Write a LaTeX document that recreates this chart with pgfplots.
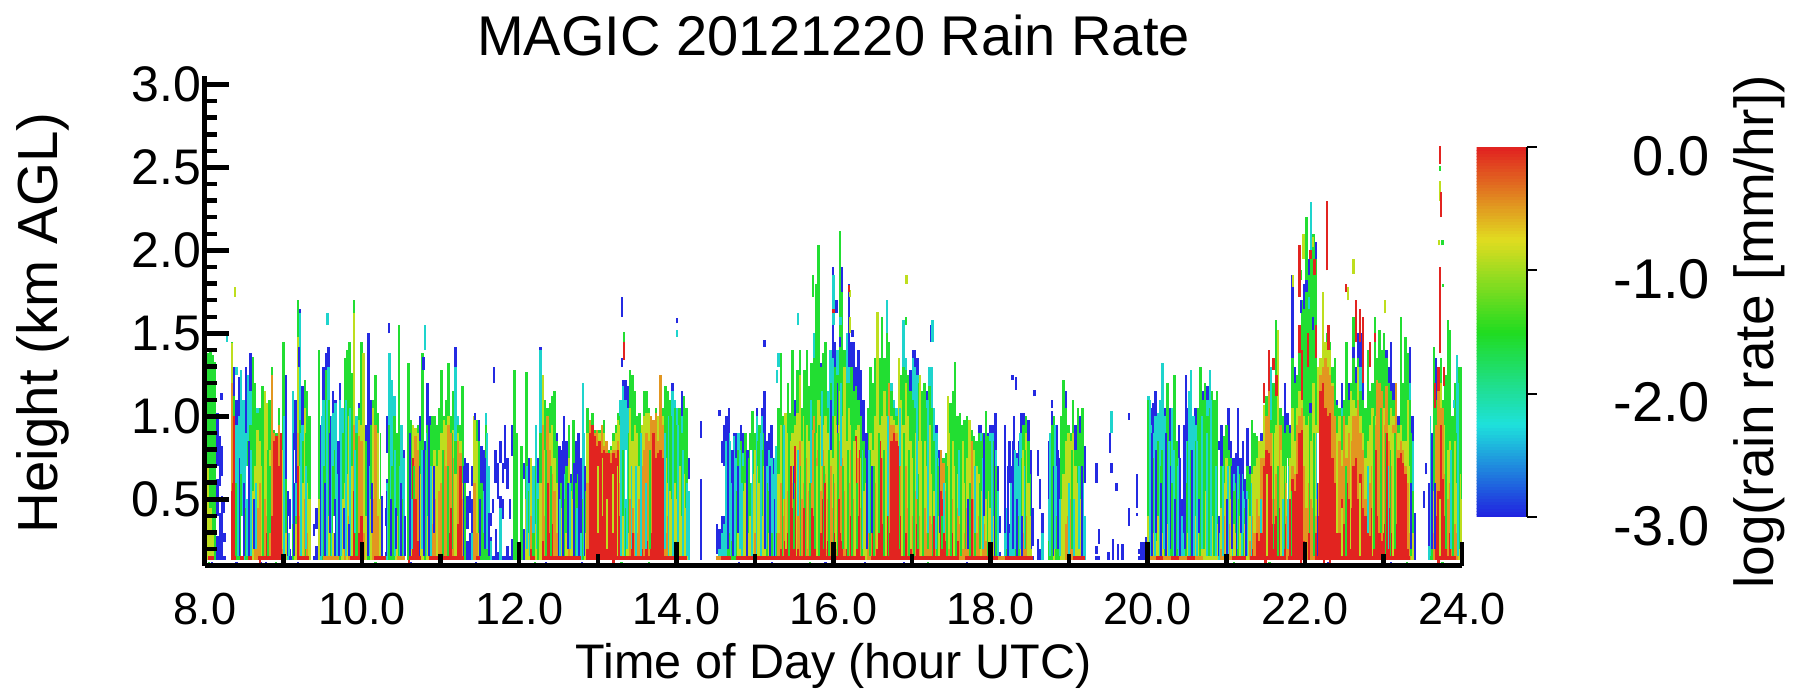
\documentclass[border=0pt]{standalone}
\usepackage{pgfplots}
\usepackage{pgfplotstable}
\usepackage{fontspec}
\setmainfont{Liberation Sans}
\pgfplotsset{compat=1.18}
% columns: time, top of blue, cyan, green, yellow, orange and red streaks (km); 0 = none
\pgfplotstableread{
x B C G Y O R
8.04 0 0 1.38 0.70 0 0
8.07 0 0 1.40 0.45 0 0
8.10 0 0 1.37 0.30 0 0
8.13 0 0 1.33 0 0 0
8.16 1.02 0 0 0 0 0
8.19 0.88 0 0 0 0 0
8.22 0.82 0 0 0 0 0
8.25 0.30 0 0 0 0 0
8.34 1.42 0 1.45 1.44 1.20 0.55
8.37 1.30 0 1.12 0.85 0.40 1.00
8.40 1.10 0.95 0.60 0 0 0
8.43 1.24 1.00 0.70 0 0 0
8.46 1.22 1.28 0.65 0 0 0
8.49 0.95 1.10 0 0 0 0
8.52 1.30 0.90 0.45 0 0 0
8.55 1.22 1.25 0.85 0 0 0
8.58 1.38 1.15 0.95 0.50 0 0
8.61 1.30 1.05 1.36 0.55 0 0
8.64 0.95 1.10 1.20 0.70 0.30 0
8.67 0 1.05 1.02 0.92 0.45 0
8.70 0 1.00 1.05 0.85 0.60 0
8.73 1.00 1.02 1.18 0.70 0 0
8.76 0 0.80 1.02 1.15 0.50 0
8.79 0 0.95 1.00 1.08 0.40 0.30
8.82 0 0.90 1.10 0.80 0.60 0
8.85 0 1.00 1.30 0.95 1.25 0.40
8.88 0 0 0.92 0.88 0.90 0.85
8.91 0 0 0.90 0.86 0.82 0.88
8.94 0 0 1.05 0.85 0.95 0.70
8.97 0 0 0.90 0.88 0.88 0.90
9.00 0.75 1.20 1.45 0.80 0.20 0
9.03 1.25 0.40 0.62 0.30 0 0
9.06 0.55 0.30 0 0 0 0
9.09 0.50 0 0 0 0 0
9.12 0.95 1.15 0.35 0 0 0
9.15 1.10 0.60 0.40 0.35 0 0
9.18 1.35 1.30 1.70 1.48 0.90 0.70
9.21 1.65 1.62 0.98 0.70 0.40 0
9.24 1.18 0.95 0.85 0.60 0 0
9.27 1.10 1.00 1.22 1.05 0.50 0
9.30 0.80 0.90 1.15 0.60 0.30 0
9.33 0.45 0.80 1.00 0.50 0 0
9.39 0.35 0 0 0 0 0
9.42 0.45 0 0 0 0 0
9.45 1.10 0.80 1.40 0.50 0 0
9.48 0.95 0.60 0 0 0 0
9.51 1.30 1.10 0.70 0 0 0
9.54 1.38 1.28 1.28 0 0 0
9.57 1.42 1.30 1.10 0.40 0 0
9.60 1.00 0.90 0.60 0 0 0
9.63 1.15 1.02 0.70 0.30 0 0
9.66 1.10 1.08 0.80 0 0 0
9.69 0.85 0.65 0 0 0 0
9.72 1.20 1.10 0.50 0 0 0
9.75 1.05 1.05 0.90 0.50 0 0
9.78 1.18 1.22 1.35 0.60 0.45 0
9.81 1.25 1.30 1.40 0.65 0 0
9.84 1.20 1.28 1.45 1.00 0.40 0
9.87 1.10 1.15 1.26 0.70 0 0
9.90 1.05 1.05 1.70 1.62 0.95 0.55
9.93 0.95 1.00 0.90 0 0 0
9.96 1.08 0.85 1.05 0.98 0.88 0.30
9.99 1.10 1.00 1.45 0.95 0.85 0.40
10.02 1.28 0.70 1.10 1.38 0.30 0
10.05 0.95 0.75 0.85 0.40 0 0
10.08 1.50 0.60 0.40 0 0 0
10.11 1.10 0.65 0.95 0.50 0 0
10.14 0.75 0.85 1.10 1.05 0.50 0
10.17 0 0.70 1.25 0.80 0.95 0
10.20 0 0.80 1.02 0.90 0.40 0
10.23 0.70 0 0.90 0.50 0 0
10.26 0.52 0 0 0 0 0
10.29 0.45 0 0 0 0 0
10.32 1.00 0.60 0 0 0 0
10.35 0.60 1.38 0.95 0 0 0
10.38 0.90 1.22 0.70 0 0 0
10.41 0.95 1.12 1.00 0 0 0
10.44 0.85 0.85 0.90 0.40 0 0
10.47 0.80 0.70 1.55 0 0 0
10.50 0.95 0.95 0.50 0 0 0
10.53 0.80 0.75 0 0 0 0
10.59 1.00 0.70 1.32 0 0 0
10.62 0.95 0.50 0.98 0.30 0 0
10.65 0.80 0.95 0.95 0.95 0.60 0.75
10.68 0 0.80 0.90 0.93 0.88 0.50
10.71 0.85 0.70 0.95 0.90 0.80 0.25
10.74 1.00 0.75 0.85 0.65 0 0
10.77 0.80 0.60 1.38 0.50 0 0
10.80 0.85 0.50 0.80 0 0 0
10.83 1.20 0.70 0.95 0.40 0 0
10.86 1.00 0.85 0.95 0.50 0 0
10.89 0.75 0.95 1.00 0.70 0.35 0
10.92 1.00 0.82 1.00 0.80 0.50 0
10.95 0.70 0.75 0.95 0.70 0 0
10.98 0.60 0.60 1.05 0.80 0.55 0
11.01 0 0.70 1.28 0.90 0.60 0
11.04 0 0.85 1.00 0.98 0.80 0
11.07 0 0.90 1.10 0.95 0.70 0
11.10 0 0.75 1.32 1.00 0.95 0.30
11.13 0 0.70 1.00 0.85 0.90 0.45
11.16 0 0.90 1.15 0.92 0.75 0
11.19 1.42 1.30 0.85 0.65 0 0
11.22 0 1.00 0.95 0.90 0.85 0.35
11.25 0 0.80 0.95 0.85 0.78 0.70
11.28 0.70 0.80 1.18 0.60 0.50 0
11.31 0.75 0.60 0.60 0 0 0
11.34 0.72 0 0 0 0 0
11.37 0.55 0 0 0 0 0
11.40 0.70 0.30 0 0 0 0
11.43 0.75 0.55 0.95 1.00 0.60 0
11.46 0 0.40 0.98 0.85 0.30 0
11.49 0.98 0.80 0.85 0.30 0 0
11.52 0.82 0.50 0.60 0 0 0
11.55 0.80 0.55 0.30 0 0 0
11.58 0.60 1.02 0.95 0 0 0
11.61 0.55 0.70 0.40 0 0 0
11.64 0.42 0.25 0 0 0 0
11.67 0.50 0 0 0 0 0
11.70 0.80 0 0 0 0 0
11.73 0.72 0 0 0 0 0
11.76 0.85 0.45 0 0 0 0
11.79 0.72 0 0 0 0 0
11.82 0.95 0 0 0 0 0
11.85 0.75 0 0 0 0 0
11.88 0.50 0 0 0 0 0
11.91 0.95 0 0 0 0 0
11.94 0.85 1.10 1.28 0 0 0
11.97 0.62 0 0.90 0 0 0
12.03 0 0 0.82 0 0 0
12.06 0.72 0 0 0 0 0
12.09 1.27 0.90 1.27 0.50 0 0
12.12 0.75 0.60 0.55 0.30 0 0
12.15 0.70 0.55 0 0.75 0.40 0.20
12.18 0.65 0.70 0.30 0 0 0
12.21 0.85 0.95 0.70 0.35 0 0
12.24 0.75 0.60 0.50 0 0 0
12.27 1.42 1.40 0.90 0.60 0 0
12.30 0.80 0.60 1.00 1.25 0.95 0.25
12.33 0 0.85 1.10 0.80 0.40 0
12.36 0 0.90 1.05 0.95 1.00 0.60
12.39 0 0.70 1.08 0.90 0.80 0.30
12.42 0 0.60 1.12 0.95 0.65 0.35
12.45 0 0.80 1.15 0.75 0.55 0
12.48 0.90 0.70 0.85 0.60 0.30 0
12.51 0.82 0.50 0.40 0 0 0
12.54 0.80 0.55 0.60 0.45 0 0
12.57 1.00 0.65 0.50 0 0 0
12.60 0.85 0.45 0.70 0.30 0 0
12.63 0.80 0.50 0.95 0.75 0.40 0
12.66 0.65 0.40 0.60 0.55 0 0
12.69 0.78 0.60 0.98 0.50 0 0
12.72 0.85 0.45 0.60 0 0 0
12.75 0.90 0.55 0.65 0.40 0 0
12.78 0.75 0.30 0 0 0 0
12.81 0.80 1.20 0.50 0 0 0
12.84 0.70 0.45 0.55 0.30 0 0
12.87 0.55 0.70 1.05 0.90 0.60 0.20
12.90 0 0.60 0.95 0.90 0.98 0.90
12.93 0 0 1.02 0.95 0.90 0.95
12.96 0 0 0.92 0.85 0.90 0.88
12.99 0 0 0.90 0.88 0.92 0.82
13.02 0 0 0.92 0.90 0.85 0.85
13.05 0 0 0.92 0.85 0.95 0.78
13.08 0 0 0.98 0.90 0.82 0.80
13.11 0 0 0.85 0.80 0.85 0.78
13.14 0 0 0.80 0.60 0.75 0.78
13.17 0 0 0.82 0.80 0.78 0.72
13.20 0 0 0.90 0.85 0.80 0.78
13.23 0 0 0.95 0.90 0.80 0.75
13.26 0 0 1.02 0.98 0.85 0.80
13.29 0.90 1.10 1.00 0.95 0.60 0.40
13.32 1.22 1.18 0.80 0.40 0 0
13.35 1.22 1.10 0.45 0 0 0
13.38 1.18 1.05 0.90 0.30 0 0
13.41 1.00 0.90 1.28 1.05 0.50 0
13.44 0.85 0.85 1.25 0.85 0.45 0.30
13.47 0.75 0.80 1.15 0.95 0.30 0
13.50 0.70 0.75 1.00 0.90 0.30 0
13.53 0.60 0.85 1.02 0.70 0.50 0
13.56 0 0.95 0.90 0.95 0.70 0.20
13.59 0 0.85 1.15 1.00 0.80 0
13.62 0 0.80 1.15 1.02 0.90 0.25
13.65 0 0.90 1.05 1.02 0.85 0
13.68 0 0.75 0.95 0.90 1.00 0.30
13.71 0 0.70 0.90 0.95 0.98 0.90
13.74 0 0.85 1.05 0.95 1.02 0.75
13.77 0 0.70 0.90 1.00 0.85 0.78
13.80 0 0.50 1.00 1.25 1.25 0.80
13.83 0 0.70 1.05 1.00 0.95 0.75
13.86 0 0.95 1.18 0.75 0.30 0
13.89 0.90 1.00 1.15 0.60 0.40 0
13.92 1.00 1.05 1.10 0.55 0 0
13.95 1.20 1.15 1.00 0.50 0 0
13.98 1.05 1.10 1.05 0.60 0 0
14.01 0.85 1.05 0.95 0.50 0 0
14.04 0.80 0.95 1.05 0.70 0 0
14.07 1.15 1.00 0.90 0.40 0 0
14.10 0.90 0.80 1.12 0.65 0 0
14.13 0.85 0.70 1.05 0.45 0 0
14.16 0.75 0.55 0 0 0 0
14.31 0.65 0 0 0 0 0
14.52 0.35 0 0 0 0 0
14.55 0.32 0.20 0 0 0 0
14.58 0.85 0.30 0 0 0 0
14.61 0.95 0.35 0 0 0 0
14.64 1.00 0.60 0.25 0 0 0
14.67 1.05 0.90 0.30 0 0 0
14.70 0.80 0.60 0.25 0 0 0
14.73 0.90 0.88 0.40 0 0 0
14.76 0.90 0.75 0.55 0 0 0
14.79 0.70 0.90 0.80 0.40 0 0
14.82 0.95 0.85 0.85 0.60 0 0
14.85 0.90 0.78 0.70 0.55 0 0
14.88 0.50 0.60 0.90 0.60 0 0
14.91 0.80 0.40 0.75 0.30 0 0
14.94 0.72 0.60 0.90 0.40 0 0
14.97 1.00 0.95 1.03 0.65 0 0
15.00 0.90 0.85 0.90 0.80 0.30 0
15.03 1.05 1.00 0.85 0.70 0 0
15.06 0.95 0.90 0.95 0.60 0 0
15.09 1.05 1.00 0.80 0.40 0 0
15.12 1.15 0.50 0.90 0.70 0 0
15.15 0.85 0.70 0.60 0 0 0
15.18 0.90 0.80 0.55 0.30 0 0
15.21 0.95 0.75 0.30 0 0 0
15.24 0.75 0.65 0 0 0 0
15.27 0.55 0.82 0.30 0 0 0
15.30 0.60 0.40 1.05 0.65 0.30 0
15.33 0 0.80 1.38 0.95 0.60 0.20
15.36 1.00 0.70 1.00 0.80 0.40 0
15.39 0 0.90 0.85 1.02 0.70 0.25
15.42 0 1.00 1.20 0.90 0.55 0.30
15.45 1.00 0.90 1.02 0.85 0.65 0
15.48 0 0.85 1.40 0.90 0.60 0.45
15.51 1.10 0.95 1.00 0.95 0.40 0.82
15.54 0 1.02 1.28 1.02 0.70 0.20
15.57 0 0.95 1.40 1.25 0.85 0
15.60 1.00 1.05 1.05 0.85 0.50 0
15.63 0 1.00 1.28 1.00 0.60 0.30
15.66 1.05 1.15 1.40 0.95 0.75 0
15.69 0 1.15 1.18 0.85 0.55 0
15.72 0 1.25 1.32 0.75 0.92 0.45
15.75 1.30 1.50 1.35 1.00 1.00 0.40
15.78 0 1.30 1.80 0.90 0.75 0.30
15.81 0 1.50 2.03 1.10 0.80 0.35
15.84 1.32 1.25 1.30 1.00 0.55 0.30
15.87 0 1.30 1.38 0.95 0.80 0.50
15.90 1.40 1.20 1.45 1.00 0.65 0
15.93 1.00 1.15 1.05 0.90 0.50 0.25
15.96 1.10 1.40 1.20 0.85 0.70 0
15.99 1.90 1.35 1.00 0.75 0.45 0
16.02 1.45 1.10 1.30 1.00 0.60 0.30
16.05 1.20 1.40 1.25 0.95 0.65 0
16.08 1.20 1.40 2.12 1.15 0.85 0.30
16.11 1.90 1.70 1.75 1.00 0.75 0.25
16.14 1.30 1.30 1.40 1.30 0.55 0
16.17 1.25 1.50 1.20 0.85 0.70 0.35
16.20 1.80 1.30 1.20 1.05 0.60 0
16.23 1.45 1.25 1.30 0.95 0.80 0.40
16.26 1.45 1.10 1.15 0.85 0.50 0
16.29 1.30 1.00 1.18 0.92 0.55 0.88
16.32 1.40 1.05 1.10 0.95 0.75 0.40
16.35 1.28 0.90 1.00 0.75 0.45 0
16.38 1.10 0.60 0.85 0.55 0.30 0
16.41 0.90 0.65 0.75 0.60 0 0
16.44 0.95 0.85 1.05 0.75 0.40 0
16.47 1.00 0.85 1.30 0.90 0.50 0
16.50 1.05 1.00 1.20 0.80 0.70 0.30
16.53 1.10 1.00 1.35 1.00 0.60 0
16.56 1.15 1.10 1.20 1.63 0.85 0.50
16.59 1.05 1.15 1.35 0.95 0.72 0.85
16.62 0.95 1.25 1.60 1.00 0.75 0.35
16.65 1.00 1.35 1.35 1.15 0.80 0.30
16.68 1.20 1.70 1.50 1.00 0.90 0.45
16.71 1.10 1.30 1.45 1.20 1.20 0.30
16.74 1.00 1.20 1.15 1.00 0.95 0.85
16.77 0.90 1.10 1.05 0.98 0.95 0.90
16.80 0.85 1.05 1.00 0.95 0.90 0.85
16.83 0.95 0.90 1.10 1.35 0.80 0.82
16.86 1.00 1.10 1.25 1.10 0.85 0.40
16.89 1.05 1.58 1.30 0.95 0.55 0
16.92 1.15 1.35 1.28 1.20 0.70 0.30
16.95 1.05 1.05 1.25 1.00 0.45 0
16.98 1.28 1.10 1.15 0.85 0.70 0.25
17.01 1.40 1.35 1.10 0.75 0.40 0
17.04 1.40 1.30 1.05 0.90 0.55 0
17.07 1.35 1.25 1.20 0.85 0.65 0.35
17.10 1.25 1.10 1.10 1.25 0.40 0
17.13 1.10 1.05 1.15 0.80 0.55 0
17.16 1.00 1.00 1.20 0.85 0.45 0
17.19 1.15 1.10 1.05 0.70 0.30 0
17.22 0.90 1.30 1.18 0.95 0.40 0
17.25 1.05 1.30 1.05 0.65 0.35 0
17.28 1.05 1.05 0.85 0.55 0 0
17.31 0.95 0.90 0.75 0.50 0.30 0
17.34 0.80 0.75 0.70 0.40 0 0
17.37 0 0.65 0.78 0.60 0.80 0.55
17.40 0 0.60 0.75 0.70 0.72 0.50
17.43 0 0.70 0.78 0.60 0.55 0.25
17.46 0 0.85 1.00 1.12 0.60 0
17.49 0 0.90 1.08 0.75 0.45 0
17.52 0 1.00 1.15 0.85 0.50 0.30
17.55 1.00 1.10 1.33 0.70 0.40 0
17.58 0 0.95 1.00 0.65 0.45 0.25
17.61 0 0.85 1.02 0.60 0.35 0
17.64 0 0.80 0.95 0.55 0.40 0
17.67 0 0.85 0.98 0.60 0.30 0
17.70 0.90 0.95 1.00 0.75 0.45 0
17.73 0.85 0.75 0.90 0.98 0.35 0
17.76 0.80 0.70 0.92 0.85 0.85 0.25
17.79 0 0.70 0.88 0.80 0.50 0
17.82 0 0.75 0.85 0.70 0.30 0
17.85 0.95 0.80 0.90 0.65 0.40 0
17.88 0.95 0.90 0.85 0.55 0 0
17.91 0.85 0.80 0.90 0.60 0.35 0
17.94 1.02 0.95 1.03 0.50 0.25 0
17.97 0.90 0.85 0.88 0.55 0 0
18.00 0.95 0.90 0.85 0.45 0 0
18.03 0.95 0.90 0.85 0.40 0 0
18.06 1.02 0.80 0.70 0 0 0
18.09 0.70 0.55 0 0 0 0
18.12 0.40 0 0 0 0 0
18.18 0.95 0.30 0 0 0 0
18.21 0.35 0.45 0.20 0 0 0
18.24 0.85 0.30 0 0 0 0
18.27 0.70 0.40 0 0 0 0
18.30 1.00 0.35 0 0 0 0
18.33 0.78 0.75 0.30 0 0 0
18.36 0.85 0.70 0.40 0 0 0
18.39 1.02 0.90 0.75 0.40 0 0
18.42 1.02 0.85 0.95 0.80 0.30 0
18.45 0.75 0.60 1.00 0.90 0.40 0
18.48 0.98 0.55 0.85 0.60 0 0
18.51 0.80 0.40 0.65 0.40 0 0
18.54 0.45 0 0 0 0 0
18.60 0.80 0 0 0 0 0
18.63 0.62 0 0 0 0 0
18.66 0.42 0.30 0 0 0 0
18.75 0.85 0.50 0.25 0 0 0
18.78 1.03 0.80 0.95 0 0 0
18.81 0.90 0.85 1.00 0.30 0 0
18.84 0.95 0.70 0.40 0 0 0
18.87 0.75 0.45 0.30 0 0 0
18.90 0.95 0.60 1.00 0.50 0 0
18.93 1.20 0.95 1.22 0.65 0 0
18.96 1.15 0.90 1.05 0.85 0.35 0
18.99 0.85 0.80 0.95 0.90 0.40 0
19.02 0.85 0.70 0.90 0.85 0.50 0
19.05 0.90 0.75 1.10 0.90 0.35 0
19.08 0.95 0.65 0.80 0.70 0 0
19.11 0.95 0.70 1.05 0.60 0 0
19.14 1.00 0.80 0.90 0.50 0 0
19.17 0.85 0.75 1.05 0.40 0 0
19.20 0.82 0.40 0 0 0 0
19.35 0.22 0 0 0 0 0
19.38 0.32 0 0 0 0 0
19.50 0.18 0 0 0 0 0
19.56 0.26 0 0 0 0 0
19.62 0.23 0 0 0 0 0
19.68 0.23 0 0 0 0 0
19.89 0.20 0 0 0 0 0
19.92 0.24 0 0 0 0 0
19.95 0.24 0 0 0 0 0
19.98 0.27 0 0 0 0 0
20.01 0.85 1.12 1.10 0.40 0 0
20.04 1.05 0.95 0.80 0.50 0 0
20.07 1.08 0.90 0.75 0.30 0 0
20.10 1.15 1.00 0.60 0.25 0 0
20.13 0.80 1.02 0.85 0.40 0 0
20.16 0.95 1.10 0.70 0 0 0
20.19 1.05 1.32 0.80 0.30 0 0
20.22 1.05 1.00 0.70 0 0 0
20.25 1.15 0.95 1.20 0.35 0 0
20.28 1.05 0.85 0.85 0 0 0
20.31 0.90 1.05 0.60 0 0 0
20.34 1.22 0.80 1.25 0.50 0 0
20.37 0.80 0.75 0.85 0 0 0
20.40 0.95 0.75 0 0 0 0
20.43 0.50 0.40 0 0 0 0
20.46 0.95 0.30 0 0 0 0
20.49 1.25 0.85 0.60 0 0 0
20.52 1.05 0.70 0.85 0.30 0 0
20.55 1.22 1.28 0.80 0 0 0
20.58 0.90 1.00 0.60 0 0 0
20.61 1.05 0.95 0.85 0.40 0 0
20.64 0.95 0.90 1.05 0.50 0 0
20.67 0.85 1.00 1.30 0.60 0 0
20.70 1.15 1.05 1.10 0.70 0 0
20.73 1.05 1.00 1.20 0.55 0 0
20.76 1.18 1.10 1.00 0.50 0 0
20.79 0.85 1.28 1.05 0.65 0 0
20.82 1.00 0.90 1.15 0.40 0 0
20.85 0.75 0.95 1.10 0.50 0 0
20.88 0.55 0.80 1.15 0.35 0 0
20.91 0.85 0.30 0 0 0 0
20.94 0.95 0.65 0.70 0.45 0.20 0
20.97 0.85 0.80 0.88 0.60 0.40 0
21.00 0.78 0.75 0.95 0.75 0 0
21.03 1.05 0.60 0.80 0.70 0.35 0
21.06 0.85 0.70 0.75 0.50 0 0
21.09 0.75 0.65 0.55 0.35 0 0
21.12 0.78 0.55 0.60 0.30 0 0
21.15 1.05 0.70 0.50 0 0 0
21.18 0.75 0.60 0.65 0.40 0 0
21.21 0.85 0.55 0.30 0 0 0
21.24 0.62 0.50 0.45 0.35 0 0
21.27 0.93 0.60 0.70 0.50 0 0
21.30 0.70 0.55 0.65 0.40 0.25 0
21.33 0.75 0.60 0.98 0.65 0.40 0.20
21.36 0.85 0.70 0.90 0.70 0.30 0
21.39 0.85 0.80 0.88 0.75 0.50 0.30
21.42 0.85 0.65 0.80 0.85 0.40 0.25
21.45 0.90 0.55 0.60 0.85 0.75 0.30
21.48 1.05 0.85 0.90 1.07 0.75 0.70
21.51 1.10 0.80 1.12 0.95 1.00 0.80
21.54 1.25 0.90 1.15 1.00 1.35 0.78
21.57 1.28 1.30 0.98 0.85 0.90 0.70
21.60 1.05 1.00 1.20 0.90 0.50 0.35
21.63 1.30 1.10 1.58 0.95 0.65 0.40
21.66 1.00 0.90 1.00 1.52 0.70 0.30
21.69 1.05 0.80 1.05 0.85 0.95 0.45
21.72 0.95 0.85 1.00 0.70 0.40 0.25
21.75 1.20 0.85 0.90 0.70 0.60 0.35
21.78 1.02 0.80 0.95 0.60 0.40 0
21.81 0.95 0.85 0.90 0.75 0.45 0.50
21.84 1.85 1.00 1.35 1.05 0.70 0.62
21.87 1.30 1.05 1.20 0.85 0.65 0.55
21.90 1.20 1.00 1.25 1.05 0.95 0.65
21.93 1.50 1.30 1.45 1.15 1.00 0.90
21.96 1.55 1.45 1.70 1.25 1.05 0.92
21.99 1.80 1.60 1.65 1.00 0.70 0.25
22.02 1.90 1.70 2.20 0.95 0.45 0
22.05 1.95 1.75 1.85 1.00 0.60 0.30
22.08 1.55 2.29 1.95 0.85 0.50 0
22.11 1.95 1.70 2.10 1.20 0.45 0
22.14 2.05 1.50 1.95 0.95 0.40 0.30
22.17 0.90 0.60 0.80 1.30 0.75 0.40
22.20 1.00 0.95 1.30 1.35 1.25 1.15
22.23 0 0 1.55 1.75 1.30 1.20
22.26 0 0 1.45 1.45 1.35 1.05
22.29 0 1.40 1.50 1.45 1.30 1.00
22.32 0 0 1.45 1.40 1.25 1.02
22.35 0 0 1.30 1.20 1.18 0.75
22.38 0 0.95 1.35 0.95 1.00 0.60
22.41 1.10 1.00 1.07 0.90 0.70 0.45
22.44 1.05 1.05 1.05 1.00 0.85 0.30
22.47 1.20 1.05 1.00 0.80 0.70 0.50
22.50 1.00 1.00 1.10 1.00 1.00 0.35
22.53 1.40 1.10 1.45 0.95 0.75 0.60
22.56 1.20 0.95 1.10 1.00 0.90 0.50
22.59 1.05 1.00 1.20 1.15 0.85 0.45
22.62 1.55 1.45 1.60 1.10 1.00 0.70
22.65 1.30 1.00 1.20 1.05 1.00 0.75
22.68 1.50 1.05 1.35 1.30 1.10 0.50
22.71 1.50 1.30 1.15 1.00 0.90 0.65
22.74 1.40 0.95 1.10 0.90 0.80 0.45
22.77 1.00 0.90 1.05 0.75 0.50 0.40
22.80 1.20 1.05 1.40 0.85 0.55 0.30
22.83 0.95 0.85 1.15 0.95 0.60 0.28
22.86 1.00 1.00 1.20 1.05 0.70 0.45
22.89 1.25 1.10 1.60 1.00 0.95 0.30
22.92 1.20 1.15 1.35 1.15 1.22 0.40
22.95 1.25 1.10 1.52 1.18 1.20 0.30
22.98 1.35 1.30 1.40 1.10 1.15 0.25
23.01 1.45 1.40 1.50 1.05 0.95 0.35
23.04 1.40 1.25 1.35 1.00 1.18 0.30
23.07 1.30 1.20 1.20 0.95 0.85 0.45
23.10 1.45 1.15 1.15 1.05 0.70 0.30
23.13 1.20 1.00 1.10 1.00 0.95 0.35
23.16 1.05 0.90 1.02 1.10 1.20 0.35
23.19 1.00 0.85 0.95 0.90 0.80 0.75
23.22 1.15 1.05 1.60 0.95 0.85 0.78
23.25 1.05 1.10 1.20 0.85 0.80 0.72
23.28 1.10 1.00 1.48 0.85 0.70 0.65
23.31 1.15 0.95 1.38 1.10 0.60 0.20
23.34 1.42 1.20 1.10 0.70 0.30 0
23.37 1.00 0.85 0.55 0.30 0 0
23.40 0.42 0 0 0 0 0
23.58 0.60 0.22 0 0 0 0
23.61 0.50 0.28 0.20 0 0 0
23.64 1.33 0.80 1.42 0.55 0.30 0
23.67 1.35 1.10 1.10 0.85 0.95 0.40
23.70 0.85 1.00 1.20 1.05 1.20 0.55
23.73 0 0.95 1.35 1.20 1.05 0.95
23.76 0 0.90 1.10 1.05 1.05 0.62
23.79 0.90 0.80 1.25 0.95 0.65 0.40
23.82 0.95 1.00 1.58 0.80 0.50 0
23.85 0.95 0.90 1.52 0.85 0.60 0.30
23.88 0.80 0.85 1.00 0.75 0.40 0
23.91 1.10 1.05 1.20 0.85 0.35 0
23.94 1.00 1.37 0.90 0.60 0.30 0
23.97 1.05 1.00 1.30 0.65 0 0
24.00 0.90 0.75 1.30 0.50 0 0
}\columnsT
% streaks inside the columns, one table per colour: time, from, to (km)
\pgfplotstableread{
x lo hi
13.00 0.30 0.70
13.06 0.40 0.75
13.12 0.20 0.50
13.19 0.30 0.65
13.25 0.16 0.70
15.40 0.20 0.70
15.53 0.16 0.90
15.67 0.20 0.75
15.79 0.16 0.70
15.91 0.20 0.80
16.03 0.20 0.85
16.16 0.20 0.70
16.27 0.16 0.85
16.39 0.16 0.50
16.55 0.20 0.95
16.67 0.16 0.90
16.87 0.16 0.90
16.99 0.20 0.70
17.11 0.16 0.85
17.47 0.20 0.90
17.53 0.16 0.70
17.65 0.20 0.85
21.52 0.16 0.65
21.70 0.16 0.80
22.41 0.30 0.80
22.47 0.16 0.45
22.58 0.20 0.90
22.70 0.16 0.60
22.86 0.16 0.80
23.00 0.30 1.00
23.12 0.16 0.90
23.72 0.16 0.50
}\strY
\pgfplotstableread{
x lo hi
8.74 0.16 0.90
8.80 0.16 0.80
8.83 0.30 0.70
9.28 0.16 0.90
10.66 0.30 0.70
11.03 0.16 0.80
11.09 0.16 0.70
11.15 0.20 0.90
12.34 0.16 0.80
12.40 0.16 0.70
13.66 0.20 0.80
15.35 0.16 0.85
15.43 0.16 0.90
15.50 0.20 0.60
15.58 0.16 0.70
15.64 0.16 1.00
15.70 0.16 0.60
15.76 0.20 0.90
15.82 0.16 0.95
15.88 0.20 0.70
15.94 0.16 0.80
16.00 0.16 0.65
16.06 0.16 0.90
16.12 0.20 0.70
16.18 0.16 0.80
16.24 0.16 0.95
16.30 0.20 0.60
16.36 0.16 0.80
16.46 0.16 0.80
16.52 0.16 0.70
16.58 0.30 0.90
16.64 0.16 0.80
16.70 0.16 0.75
16.84 0.20 0.70
16.90 0.16 0.90
16.96 0.16 0.80
17.02 0.16 0.90
17.08 0.20 0.65
17.14 0.16 0.90
17.20 0.20 0.50
17.26 0.16 0.75
17.32 0.16 0.70
17.38 0.20 0.40
17.44 0.16 0.70
17.50 0.16 0.80
17.56 0.16 0.90
17.62 0.16 0.70
17.68 0.20 0.80
17.74 0.16 0.60
17.80 0.16 0.70
17.86 0.20 0.60
17.96 0.16 0.70
18.44 0.20 0.80
19.04 0.20 0.80
20.66 0.16 0.60
20.72 0.20 0.90
20.78 0.16 0.70
20.84 0.16 0.80
21.60 0.20 0.90
21.66 0.16 0.70
21.74 0.20 0.70
21.83 0.16 0.55
22.06 0.30 1.00
22.12 0.16 0.90
22.52 0.16 0.70
22.88 0.20 1.00
22.97 0.30 1.05
23.03 0.16 0.90
23.09 0.16 0.80
23.15 0.20 0.90
23.35 0.16 0.90
23.80 0.20 1.00
23.89 0.16 1.00
23.96 0.20 0.90
}\strG
\pgfplotstableread{
x lo hi
8.42 0.16 0.90
8.48 0.25 1.00
8.53 0.16 0.70
8.59 0.16 0.80
8.65 0.20 0.60
9.01 0.16 1.00
9.07 0.16 0.30
9.22 0.16 0.90
9.29 0.20 0.70
9.49 0.16 1.00
9.55 0.16 1.10
9.61 0.16 1.00
9.67 0.16 0.90
9.73 0.16 1.00
9.79 0.16 1.10
9.85 0.16 1.05
9.91 0.30 0.80
10.09 0.16 0.70
10.36 0.16 1.10
10.42 0.16 0.80
10.48 0.16 0.70
10.63 0.20 0.50
10.76 0.20 0.80
10.82 0.16 0.90
10.88 0.16 0.70
11.59 0.20 0.90
12.10 0.20 0.70
12.13 0.16 0.60
12.22 0.20 0.80
12.52 0.16 0.50
12.65 0.20 0.60
12.74 0.16 0.45
12.82 0.16 0.90
13.30 0.16 1.10
13.34 0.16 0.90
13.37 0.20 1.00
13.43 0.20 0.70
13.49 0.16 0.70
13.55 0.16 0.90
13.61 0.20 0.60
13.86 0.20 0.90
13.90 0.16 1.00
13.96 0.16 1.00
14.02 0.20 0.95
14.08 0.16 0.80
14.14 0.16 0.60
14.63 0.16 0.85
14.69 0.16 0.85
14.75 0.16 0.70
14.81 0.20 0.80
14.84 0.16 0.60
14.96 0.16 0.80
15.02 0.16 0.90
15.08 0.16 0.90
15.14 0.20 0.70
15.26 0.16 0.75
15.37 0.50 0.95
15.55 0.40 0.80
15.71 0.60 1.10
15.85 0.70 1.15
15.95 0.80 1.30
16.10 0.70 1.20
16.37 0.20 0.80
16.45 0.30 0.80
16.69 0.40 1.00
16.85 0.70 1.05
17.06 0.50 1.20
17.20 0.30 1.10
17.30 0.20 0.90
17.41 0.30 0.60
17.60 0.40 0.80
17.80 0.30 0.70
17.90 0.20 0.75
18.02 0.20 0.85
18.10 0.16 0.50
18.26 0.20 0.60
18.31 0.20 0.80
18.37 0.20 0.90
18.43 0.20 0.70
18.76 0.16 0.90
18.82 0.20 0.95
18.88 0.16 0.50
19.00 0.16 0.60
19.06 0.16 0.50
19.12 0.20 0.70
19.18 0.16 0.60
20.03 0.16 1.10
20.09 0.16 1.00
20.15 0.16 0.95
20.21 0.20 1.00
20.27 0.16 0.85
20.33 0.16 0.80
20.39 0.20 0.70
20.53 0.16 1.15
20.59 0.16 1.00
20.63 0.16 0.85
20.69 0.20 1.00
20.75 0.16 0.90
20.81 0.16 1.10
20.87 0.16 0.70
20.96 0.16 0.70
21.02 0.16 0.70
21.08 0.16 0.65
21.14 0.20 0.60
21.20 0.16 0.65
21.26 0.16 0.55
21.32 0.16 0.60
21.44 0.30 0.50
21.72 0.16 0.50
21.79 0.20 0.70
22.15 0.50 0.90
22.80 0.30 0.70
23.06 0.20 0.70
23.60 0.16 1.00
23.86 0.20 0.80
23.95 0.16 1.20
}\strC
\pgfplotstableread{
x lo hi
8.44 0.16 0.75
8.50 0.16 0.60
8.56 0.16 0.85
8.62 0.20 0.50
9.05 0.16 0.45
9.13 0.16 0.90
9.47 0.16 0.95
9.53 0.16 0.60
9.59 0.30 0.90
9.65 0.16 0.50
9.71 0.16 0.85
9.77 0.20 0.45
9.83 0.16 0.35
10.07 0.16 0.90
10.13 0.30 0.60
10.25 0.16 0.50
10.31 0.16 0.55
10.37 0.16 0.50
10.43 0.20 0.45
10.49 0.16 0.60
10.55 0.16 0.40
10.61 0.16 0.90
10.73 0.16 0.70
10.79 0.16 0.80
10.85 0.16 0.95
10.91 0.30 0.70
11.29 0.16 0.70
11.50 0.16 0.50
11.56 0.20 0.75
11.62 0.16 0.42
12.50 0.16 0.75
12.56 0.16 0.85
12.62 0.20 0.60
12.70 0.16 0.72
12.76 0.16 0.90
12.83 0.16 0.70
14.66 0.20 0.90
14.72 0.16 0.80
14.78 0.30 0.70
14.90 0.16 0.80
15.13 0.20 0.90
15.19 0.16 0.70
15.25 0.16 0.50
15.49 0.50 0.70
15.97 0.80 1.10
16.05 0.90 1.20
16.43 0.20 0.90
16.49 0.30 0.70
17.35 0.30 0.80
17.71 0.20 0.50
17.92 0.40 0.90
18.05 0.16 0.85
18.22 0.16 0.70
18.28 0.20 0.85
18.34 0.16 0.50
18.40 0.16 0.40
18.52 0.20 0.70
18.80 0.16 0.70
18.86 0.20 0.80
19.16 0.16 0.70
20.05 0.16 0.90
20.11 0.30 0.80
20.17 0.16 0.60
20.23 0.16 0.90
20.29 0.20 0.70
20.35 0.16 0.50
20.41 0.16 0.75
20.47 0.20 0.90
20.56 0.16 0.80
20.65 0.30 0.50
20.90 0.16 0.80
21.01 0.16 0.50
21.07 0.20 0.70
21.13 0.16 0.60
21.19 0.30 0.70
21.25 0.16 0.50
22.16 0.16 0.70
23.35 0.20 0.60
23.62 0.20 0.90
23.66 0.20 0.60
}\strB
\pgfplotstableread{
x lo hi
8.36 0.16 0.60
10.66 0.16 0.50
15.46 0.16 0.70
15.62 0.16 0.45
15.89 0.16 0.60
16.07 0.16 0.50
16.33 0.16 0.80
16.60 0.16 0.75
17.28 0.16 0.40
17.76 0.16 0.50
22.91 0.16 0.80
23.05 0.16 0.90
}\strR
\pgfplotstableread{
x lo hi
8.47 0.16 0.40
8.53 0.50 0.70
9.10 0.16 0.60
9.14 0.60 0.80
9.64 0.30 0.40
10.22 0.50 0.90
10.28 0.16 0.80
13.36 0.50 0.80
14.95 0.60 0.80
20.44 0.50 0.90
20.91 0.40 0.80
21.78 0.50 0.75
22.17 0.60 0.90
}\strW
% white gaps in the blue speckle: time, from, to (km)
\pgfplotstableread{
x lo hi
8.16 0.62 0.70
8.16 0.28 0.40
8.19 0.42 0.58
8.22 0.52 0.64
8.25 0.16 0.24
8.40 0.60 0.72
8.43 0.40 0.48
8.49 0.30 0.45
9.06 0.30 0.40
9.09 0.20 0.32
9.12 0.46 0.60
9.39 0.16 0.28
9.42 0.22 0.32
9.48 0.42 0.50
9.69 0.38 0.50
10.26 0.28 0.36
10.29 0.18 0.34
10.32 0.62 0.78
10.53 0.50 0.60
11.34 0.52 0.60
11.34 0.25 0.32
11.37 0.30 0.42
11.40 0.50 0.58
11.64 0.27 0.34
11.67 0.16 0.42
11.70 0.32 0.60
11.73 0.18 0.50
11.76 0.52 0.72
11.79 0.16 0.38
11.79 0.50 0.60
11.82 0.16 0.68
11.85 0.22 0.56
11.88 0.16 0.38
11.91 0.26 0.76
11.97 0.16 0.50
12.03 0.16 0.60
12.06 0.32 0.62
14.16 0.16 0.62
14.31 0.62 0.65
14.52 0.16 0.17
14.58 0.40 0.72
14.61 0.40 0.70
18.12 0.18 0.30
18.24 0.35 0.60
18.27 0.20 0.28
18.54 0.16 0.22
18.60 0.26 0.64
18.63 0.20 0.44
18.66 0.17 0.22
18.84 0.48 0.62
19.20 0.24 0.60
19.35 0.16 0.17
19.38 0.16 0.23
19.89 0.16 0.17
}\gapsT
% detached echoes and streak pieces, one table per colour: time, from, to (km)
\pgfplotstableread{
x lo hi
8.21 1.10 1.14
8.24 0.42 0.50
9.20 1.30 1.42
10.34 1.50 1.56
10.78 1.28 1.36
11.44 0.98 1.02
11.68 1.20 1.30
13.31 1.60 1.72
13.31 1.30 1.35
14.01 1.56 1.59
14.31 0.87 0.97
14.55 1.00 1.04
15.12 1.42 1.46
16.04 1.62 1.70
16.08 1.42 1.48
16.24 1.48 1.52
17.24 1.45 1.55
18.28 1.22 1.25
18.32 1.16 1.24
18.56 1.12 1.16
18.78 1.05 1.10
19.35 0.60 0.72
19.52 0.78 0.90
19.54 0.66 0.72
19.60 0.55 0.60
19.76 0.34 0.45
19.76 0.98 1.02
19.86 0.45 0.65
19.86 0.40 0.42
22.07 1.02 1.08
22.02 1.75 1.82
22.10 1.52 1.60
21.95 1.62 1.70
22.62 1.35 1.42
23.54 0.65 0.72
23.52 0.45 0.55
}\fragB
\pgfplotstableread{
x lo hi
8.28 1.45 1.50
8.40 1.25 1.30
9.56 1.55 1.62
10.80 1.40 1.55
14.01 1.48 1.52
15.28 1.20 1.28
15.30 1.30 1.38
15.55 1.55 1.62
16.00 1.55 1.85
16.09 1.55 1.60
17.26 1.45 1.58
19.54 0.90 1.03
22.05 1.65 1.72
23.90 1.05 1.10
}\fragC
\pgfplotstableread{
x lo hi
13.33 1.45 1.51
15.74 1.72 1.85
16.92 1.55 1.60
21.95 1.82 1.88
22.12 1.78 1.95
23.72 2.48 2.51
23.76 1.78 1.80
23.75 2.03 2.06
}\fragG
\pgfplotstableread{
x lo hi
8.38 1.72 1.78
16.93 1.80 1.85
16.21 1.50 1.60
16.21 1.72 1.76
21.85 1.78 1.85
21.98 1.95 2.10
22.10 2.02 2.08
22.55 1.70 1.78
22.62 1.86 1.95
23.02 1.62 1.70
23.71 2.03 2.06
23.72 2.30 2.42
}\fragY
\pgfplotstableread{
x lo hi
13.33 1.34 1.45
16.00 1.62 1.65
16.20 1.75 1.79
21.48 1.08 1.20
21.54 1.15 1.40
21.60 1.28 1.35
21.64 1.12 1.25
21.93 1.72 2.03
21.93 1.38 1.55
21.96 1.10 1.40
22.04 1.30 1.50
22.07 1.95 2.00
22.12 1.85 1.95
22.14 1.35 1.55
22.28 1.88 2.30
22.30 1.40 1.55
22.52 1.75 1.80
22.65 1.45 1.70
22.70 1.45 1.65
22.74 1.20 1.60
22.83 1.30 1.45
22.89 1.45 1.50
23.66 1.05 1.20
23.72 1.38 1.90
23.73 2.20 2.35
23.72 2.52 2.63
23.70 1.15 1.30
23.77 1.18 1.30
}\fragR
% bits below the lowest gate
\pgfplotstableread{
x lo hi
8.09 0.105 0.125
8.40 0.105 0.125
8.71 0.105 0.125
8.78 0.105 0.125
9.18 0.105 0.125
10.62 0.105 0.125
11.45 0.105 0.125
12.34 0.105 0.125
12.80 0.105 0.125
14.80 0.105 0.125
15.22 0.105 0.125
15.90 0.105 0.125
16.40 0.105 0.125
16.90 0.105 0.125
17.70 0.105 0.125
22.30 0.105 0.125
23.10 0.105 0.125
}\bitsB
\pgfplotstableread{
x lo hi
8.05 0.105 0.125
8.90 0.105 0.125
10.17 0.105 0.125
10.60 0.105 0.125
12.20 0.105 0.125
13.30 0.105 0.125
13.65 0.105 0.125
15.70 0.105 0.125
17.20 0.105 0.125
21.10 0.105 0.125
21.55 0.105 0.125
23.30 0.105 0.125
23.75 0.105 0.125
}\bitsG
\pgfplotstableread{
x lo hi
8.70 0.105 0.135
10.60 0.105 0.135
13.00 0.105 0.135
13.20 0.105 0.135
21.50 0.105 0.135
21.95 0.105 0.135
22.24 0.105 0.135
22.32 0.105 0.135
23.70 0.105 0.135
}\bitsR
% stretches of the lowest gate, saturated: from, to (hour)
\pgfplotstableread{
a b y
8.04 8.12 0.145
8.34 8.40 0.145
8.45 8.50 0.145
8.55 8.60 0.145
8.68 8.98 0.145
9.18 9.33 0.145
9.85 10.00 0.145
10.15 10.30 0.145
10.60 10.75 0.145
10.85 11.30 0.145
11.45 11.50 0.145
12.15 12.20 0.145
12.29 12.78 0.145
12.87 14.14 0.145
14.57 14.69 0.145
14.76 16.40 0.145
16.48 17.60 0.145
17.68 18.10 0.145
18.18 18.54 0.145
19.05 19.20 0.145
20.10 20.20 0.145
20.30 20.40 0.145
20.50 20.60 0.145
21.07 21.25 0.145
21.30 21.75 0.145
21.79 22.00 0.145
22.15 22.80 0.145
22.83 23.00 0.145
23.08 23.34 0.145
23.66 23.93 0.145
}\redrow
\pgfplotstableread{
a b y
9.50 9.70 0.145
10.45 10.55 0.145
14.50 14.57 0.145
18.10 18.18 0.145
20.02 20.10 0.145
20.20 20.30 0.145
20.40 20.50 0.145
20.60 20.70 0.145
21.00 21.07 0.145
}\yelrow
\definecolor{cB}{RGB}{36,42,226}
\definecolor{cC}{RGB}{30,212,205}
\definecolor{cG}{RGB}{34,222,50}
\definecolor{cY}{RGB}{190,222,30}
\definecolor{cO}{RGB}{226,150,32}
\definecolor{cR}{RGB}{226,36,32}
\pgfplotsset{
  comb/.style={ycomb,no markers,forget plot,line width=2.4pt,draw=#1},
  seg/.style={draw=none,no markers,forget plot,error bars/.cd,y dir=plus,y explicit,error mark=none,
    error bar style={line width=2.4pt,color=#1}},
  str/.style={draw=none,no markers,forget plot,error bars/.cd,y dir=plus,y explicit,error mark=none,
    error bar style={line width=1.8pt,color=#1}},
  segx/.style={draw=none,no markers,forget plot,error bars/.cd,x dir=plus,x explicit,error mark=none,
    error bar style={line width=3.5pt,color=#1}},
  /pgfplots/table/fromto/.style={/pgfplots/table/x=x,/pgfplots/table/y=lo,/pgfplots/table/y error expr=\thisrow{hi}-\thisrow{lo}},
  /pgfplots/table/along/.style={/pgfplots/table/x=a,/pgfplots/table/y=y,/pgfplots/table/x error expr=\thisrow{b}-\thisrow{a}},
}
\begin{document}
\begin{tikzpicture}
\useasboundingbox (0,0) rectangle (1812pt,688pt);
\begin{axis}[
  at={(205pt,122.3pt)},anchor=south west,
  scale only axis,width=1257pt,height=489.5pt,
  xmin=8,xmax=24,ymin=0.1,ymax=3.05,
  axis lines=left,axis line style={-,line width=5pt,black},
  axis on top,
  tick align=inside,
  tick style={black,line width=4.5pt},
  major tick length=24pt,minor tick length=12pt,
  xtick={8,10,...,24},minor xtick={9,11,...,23},
  ytick={0.5,1,1.5,2,2.5,3},
  minor ytick={0.2,0.3,0.4,0.6,0.7,0.8,0.9,1.1,1.2,1.3,1.4,1.6,1.7,1.8,1.9,2.1,2.2,2.3,2.4,2.6,2.7,2.8,2.9},
  /pgf/number format/assume math mode=true,
  /pgf/number format/fixed,/pgf/number format/fixed zerofill,/pgf/number format/precision=1,
  xticklabel style={font=\fontsize{45}{50}\selectfont,yshift=-24pt},
  yticklabel style={font=\fontsize{50}{55}\selectfont,xshift=0pt},
  every axis x label/.style={at={(axis description cs:0.5,-0.204)},anchor=center,font=\fontsize{48.5}{54}\selectfont},
  every axis y label/.style={at={(axis description cs:-0.129,0.496)},anchor=center,rotate=90,font=\fontsize{56.5}{62}\selectfont},
  xlabel={Time of Day (hour UTC)},
  ylabel={Height (km AGL)},
  title style={at={(axis description cs:0.5,1.071)},anchor=center,font=\fontsize{56}{62}\selectfont},
  title={MAGIC 20121220 Rain Rate},
  colormap={rain}{rgb255=(32,32,224) rgb255=(30,225,220) rgb255=(32,220,32) rgb255=(225,220,32) rgb255=(225,32,32)},
  point meta min=-3,point meta max=0,
  colorbar sampled,
  colorbar style={
    samples=121,
    at={(parent axis.south west)},anchor=south west,xshift=1263pt,yshift=48.7pt,
    width=50pt,height=370pt,
    ytick={-3,-2,-1,0},
    axis x line=none,axis y line*=right,
    axis line style={-,black,line width=2pt},
    tick align=outside,tick style={black,line width=2pt},major tick length=10pt,
    yticklabel pos=right,
    /pgf/number format/assume math mode=true,
    /pgf/number format/fixed,/pgf/number format/fixed zerofill,/pgf/number format/precision=1,
    yticklabel style={font=\fontsize{56}{62}\selectfont,anchor=east,xshift=177pt,yshift=-9pt},
    ylabel={log(rain rate [mm/hr])},
    every axis y label/.style={at={(axis description cs:5.66,0.5)},anchor=center,rotate=90,font=\fontsize{55}{60}\selectfont},
  },
]
\addplot[comb=cB] table[x=x,y=B] {\columnsT};
\addplot[seg=white] table[fromto] {\gapsT};
\addplot[comb=cC] table[x=x,y=C] {\columnsT};
\addplot[comb=cG] table[x=x,y=G] {\columnsT};
\addplot[comb=cY] table[x=x,y=Y] {\columnsT};
\addplot[comb=cO] table[x=x,y=O] {\columnsT};
\addplot[comb=cR] table[x=x,y=R] {\columnsT};
\addplot[str=cY] table[fromto] {\strY};
\addplot[str=cG] table[fromto] {\strG};
\addplot[str=cC] table[fromto] {\strC};
\addplot[str=cB] table[fromto] {\strB};
\addplot[str=cR] table[fromto] {\strR};
\addplot[str=white] table[fromto] {\strW};
\addplot[seg=cB] table[fromto] {\fragB};
\addplot[seg=cC] table[fromto] {\fragC};
\addplot[seg=cG] table[fromto] {\fragG};
\addplot[seg=cY] table[fromto] {\fragY};
\addplot[seg=cR] table[fromto] {\fragR};
\addplot[forget plot,white,line width=6pt] coordinates {(8,0.117) (24,0.117)};
\addplot[seg=cB] table[fromto] {\bitsB};
\addplot[seg=cG] table[fromto] {\bitsG};
\addplot[seg=cR] table[fromto] {\bitsR};
\addplot[segx=cR] table[along] {\redrow};
\addplot[segx=cO] table[along] {\yelrow};
\end{axis}
\end{tikzpicture}
\end{document}
